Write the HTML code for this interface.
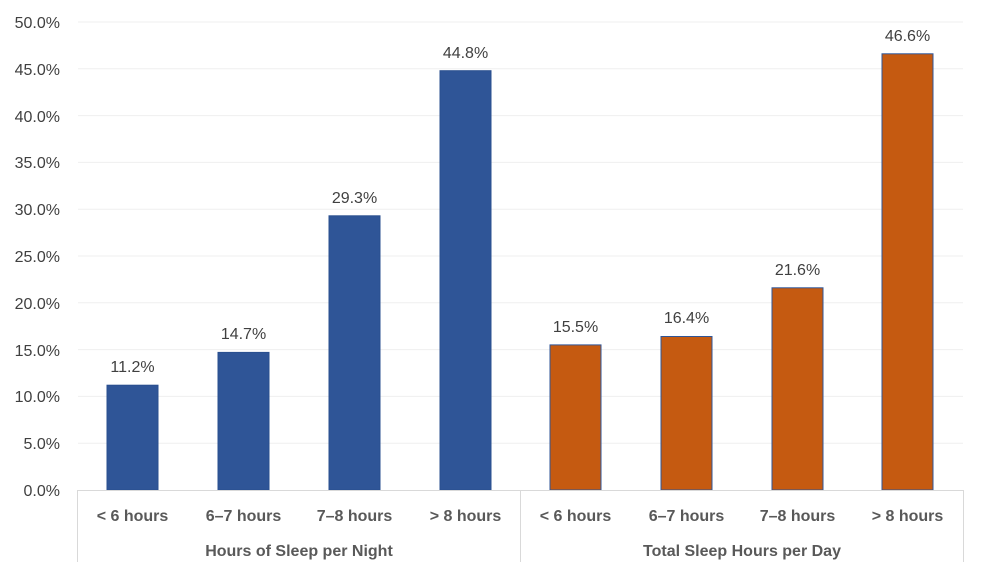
<!DOCTYPE html>
<html><head><meta charset="utf-8"><style>
html,body{margin:0;padding:0;background:#fff;}
svg text{font-family:"Liberation Sans",sans-serif;fill:#404040;}
</style></head><body>
<svg width="986" height="573" viewBox="0 0 986 573" xmlns="http://www.w3.org/2000/svg">
<g stroke="#efefef" stroke-width="1">
<line x1="78" x2="963" y1="443.2" y2="443.2"/><line x1="78" x2="963" y1="396.4" y2="396.4"/>
<line x1="78" x2="963" y1="349.6" y2="349.6"/><line x1="78" x2="963" y1="302.8" y2="302.8"/>
<line x1="78" x2="963" y1="256" y2="256"/><line x1="78" x2="963" y1="209.2" y2="209.2"/>
<line x1="78" x2="963" y1="162.4" y2="162.4"/><line x1="78" x2="963" y1="115.6" y2="115.6"/>
<line x1="78" x2="963" y1="68.8" y2="68.8"/><line x1="78" x2="963" y1="22" y2="22"/>
</g>
<g font-size="16" text-anchor="end">
<text x="60" y="496">0.0%</text><text x="60" y="449">5.0%</text><text x="60" y="402">10.0%</text>
<text x="60" y="356">15.0%</text><text x="60" y="309">20.0%</text><text x="60" y="262">25.0%</text>
<text x="60" y="215">30.0%</text><text x="60" y="168">35.0%</text><text x="60" y="122">40.0%</text>
<text x="60" y="75">45.0%</text><text x="60" y="28">50.0%</text>
</g>
<g fill="#2f5597" stroke="#2a4f8f" stroke-width="1">
<rect x="107" y="385.2" width="51" height="104.8"/>
<rect x="218" y="352.4" width="51" height="137.6"/>
<rect x="329" y="215.8" width="51" height="274.2"/>
<rect x="440" y="70.7" width="51" height="419.3"/>
</g>
<g fill="#c55a11" stroke="#2f5597" stroke-width="1">
<rect x="550" y="344.9" width="51" height="145.1"/>
<rect x="661" y="336.5" width="51" height="153.5"/>
<rect x="772" y="287.8" width="51" height="202.2"/>
<rect x="882" y="53.8" width="51" height="436.2"/>
</g>
<g font-size="16" text-anchor="middle">
<text x="132.5" y="372">11.2%</text><text x="243.5" y="339">14.7%</text>
<text x="354.5" y="203">29.3%</text><text x="465.5" y="58">44.8%</text>
<text x="575.5" y="332">15.5%</text><text x="686.5" y="323">16.4%</text>
<text x="797.5" y="275">21.6%</text><text x="907.5" y="41">46.6%</text>
</g>
<g stroke="#d9d9d9" stroke-width="1">
<line x1="77.5" x2="963" y1="490.5" y2="490.5"/>
<line x1="77.5" x2="77.5" y1="490" y2="562"/>
<line x1="520.5" x2="520.5" y1="490" y2="562"/>
<line x1="963.5" x2="963.5" y1="490" y2="562"/>
</g>
<g font-size="16" text-anchor="middle" font-weight="bold">
<text x="132.5" y="521" style="fill:#595959">&lt; 6 hours</text><text x="243.5" y="521" style="fill:#595959">6–7 hours</text>
<text x="354.5" y="521" style="fill:#595959">7–8 hours</text><text x="465.5" y="521" style="fill:#595959">&gt; 8 hours</text>
<text x="575.5" y="521" style="fill:#595959">&lt; 6 hours</text><text x="686.5" y="521" style="fill:#595959">6–7 hours</text>
<text x="797.5" y="521" style="fill:#595959">7–8 hours</text><text x="907.5" y="521" style="fill:#595959">&gt; 8 hours</text>
<text x="299" y="556" style="fill:#595959">Hours of Sleep per Night</text>
<text x="742" y="556" style="fill:#595959">Total Sleep Hours per Day</text>
</g>
</svg>
</body></html>
